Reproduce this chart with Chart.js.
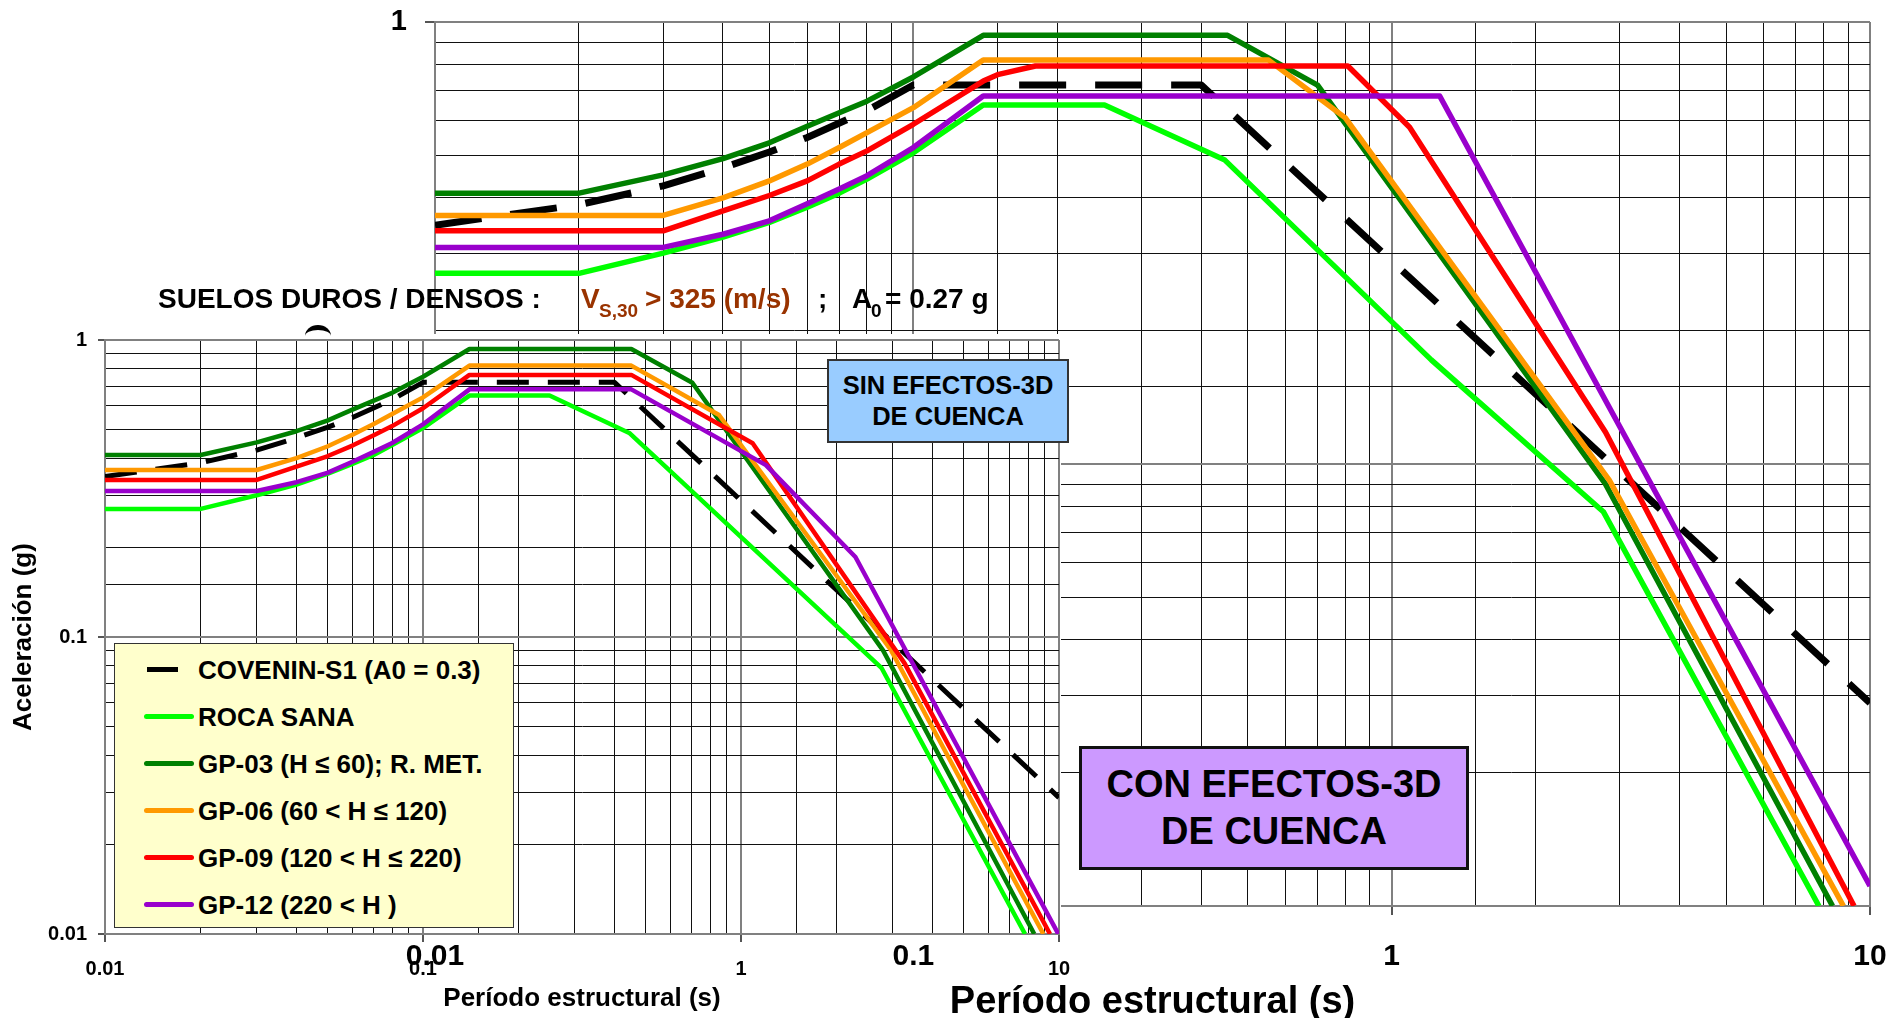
<!DOCTYPE html>
<html>
<head>
<meta charset="utf-8">
<script src="https://cdn.jsdelivr.net/npm/chart.js@4.4.1/dist/chart.umd.min.js"></script>
<style>
html,body{margin:0;padding:0;background:#fff;width:1904px;height:1018px;overflow:hidden;font-family:"Liberation Sans",Arial,sans-serif;}
canvas{position:absolute;display:block;}
#big{left:0;top:0;}
#small{left:0;top:320px;}
.t{position:absolute;white-space:pre;font-weight:bold;line-height:1;color:#000;}
#legend{position:absolute;left:114px;top:643px;width:400px;height:285px;background:#FFFFCC;border:1px solid #333;box-sizing:border-box;}
.lgLine{position:absolute;height:5px;border-radius:3px;}
.lgText{position:absolute;left:83px;font-size:26px;font-weight:bold;line-height:26px;white-space:pre;color:#000;}
#sinBox{position:absolute;left:827px;top:359px;width:242px;height:84px;background:#99CCFF;border:2px solid #333;box-sizing:border-box;}
#conBox{position:absolute;left:1079px;top:746px;width:390px;height:124px;background:#CC99FF;border:3px solid #111;box-sizing:border-box;}
.boxTxt{position:absolute;left:0;width:100%;text-align:center;font-weight:bold;white-space:pre;line-height:1;color:#000;}
#arc{position:absolute;left:305px;top:325px;width:26px;height:22px;border-top:5px solid #000;border-radius:50%;box-sizing:border-box;}
</style>
</head>
<body>
<canvas id="big" width="1904" height="1018"></canvas>
<canvas id="small" width="1100" height="698"></canvas>

<div class="t" style="left:158px;top:285px;font-size:28px;">SUELOS DUROS / DENSOS :</div>
<div class="t" style="left:581px;top:285px;font-size:28px;color:#993300;">V</div>
<div class="t" style="left:599px;top:301px;font-size:19px;color:#993300;">S,30</div>
<div class="t" style="left:645px;top:285px;font-size:28px;color:#993300;">&gt; 325 (m/s)</div>
<div class="t" style="left:818px;top:285px;font-size:28px;">;</div>
<div class="t" style="left:852px;top:285px;font-size:28px;">A</div>
<div class="t" style="left:871px;top:301px;font-size:19px;">0</div>
<div class="t" style="left:885px;top:285px;font-size:28px;">= 0.27 g</div>
<div id="arc"></div>

<div id="sinBox">
  <div class="boxTxt" style="top:12px;font-size:25.5px;">SIN EFECTOS-3D</div>
  <div class="boxTxt" style="top:43px;font-size:25.5px;">DE CUENCA</div>
</div>
<div id="conBox">
  <div class="boxTxt" style="top:16px;font-size:38px;">CON EFECTOS-3D</div>
  <div class="boxTxt" style="top:63px;font-size:38px;">DE CUENCA</div>
</div>
<div id="legend"></div>

<script>
// ================= DATA =================
const xTickValues = [0.01, 0.1, 1, 10];
const xTickLabels = ['0.01', '0.1', '1', '10'];
const yTickValues = [0.01, 0.1, 1];
const yTickLabels = ['0.01', '0.1', '1'];

const seriesLabels = ['COVENIN-S1 (A0 = 0.3)', 'ROCA SANA', 'GP-03 (H \u2264 60); R. MET.',
  'GP-06 (60 < H \u2264 120)', 'GP-09 (120 < H \u2264 220)', 'GP-12 (220 < H )'];
const seriesColors = ['#000000', '#00FF00', '#008000', '#FF9900', '#FF0000', '#9900CC'];

// COVENIN-S1 (both panels)
const covPeriods = [0.01, 0.02, 0.03, 0.04, 0.05, 0.06, 0.08, 0.1, 0.4, 10];
const covAccel   = [0.347, 0.386, 0.426, 0.468, 0.508, 0.548, 0.63, 0.72, 0.72, 0.0288];

// ---- SIN EFECTOS-3D (small panel) ----
const sinRocaT = [0.01, 0.02, 0.03, 0.04, 0.05, 0.06, 0.07, 0.08, 0.1, 0.14, 0.25, 0.447, 2.77, 7.82];
const sinRocaA = [0.27, 0.27, 0.30, 0.326, 0.354, 0.383, 0.41, 0.443, 0.505, 0.65, 0.65, 0.485, 0.0785, 0.01];
const sinGP03T = [0.01, 0.02, 0.03, 0.04, 0.05, 0.06, 0.07, 0.08, 0.1, 0.14, 0.452, 0.703, 2.8, 8.36];
const sinGP03A = [0.41, 0.41, 0.452, 0.493, 0.535, 0.583, 0.625, 0.664, 0.752, 0.933, 0.933, 0.718, 0.09, 0.01];
const sinGP06T = [0.01, 0.02, 0.03, 0.04, 0.05, 0.06, 0.07, 0.08, 0.1, 0.14, 0.452, 0.853, 2.96, 8.93];
const sinGP06A = [0.365, 0.365, 0.365, 0.40, 0.438, 0.48, 0.521, 0.563, 0.641, 0.82, 0.82, 0.559, 0.0904, 0.01];
const sinGP09T = [0.01, 0.02, 0.03, 0.04, 0.05, 0.06, 0.07, 0.08, 0.1, 0.14, 0.452, 1.088, 3.27, 9.37];
const sinGP09A = [0.338, 0.338, 0.338, 0.375, 0.406, 0.441, 0.478, 0.513, 0.589, 0.763, 0.763, 0.449, 0.0815, 0.01];
const sinGP12T = [0.01, 0.02, 0.03, 0.04, 0.05, 0.06, 0.07, 0.08, 0.1, 0.14, 0.452, 1.198, 2.29, 9.95];
const sinGP12A = [0.31, 0.31, 0.31, 0.332, 0.357, 0.389, 0.42, 0.45, 0.52, 0.682, 0.682, 0.379, 0.186, 0.01];

// ---- CON EFECTOS-3D (large panel) ----
const conRocaT = [0.01, 0.02, 0.03, 0.04, 0.05, 0.06, 0.07, 0.08, 0.1, 0.14, 0.251, 0.448, 1.21, 2.77, 7.82];
const conRocaA = [0.27, 0.27, 0.30, 0.326, 0.352, 0.381, 0.41, 0.441, 0.506, 0.649, 0.649, 0.487, 0.172, 0.078, 0.01];
const conGP03T = [0.01, 0.02, 0.03, 0.04, 0.05, 0.06, 0.07, 0.08, 0.1, 0.14, 0.454, 0.70, 2.8, 8.35];
const conGP03A = [0.41, 0.41, 0.451, 0.491, 0.533, 0.581, 0.623, 0.662, 0.751, 0.933, 0.933, 0.72, 0.09, 0.01];
const conGP06T = [0.01, 0.02, 0.03, 0.04, 0.05, 0.06, 0.07, 0.08, 0.1, 0.14, 0.553, 0.80, 2.85, 8.8];
const conGP06A = [0.365, 0.365, 0.365, 0.40, 0.437, 0.477, 0.52, 0.562, 0.64, 0.82, 0.82, 0.607, 0.092, 0.01];
const conGP09T = [0.01, 0.02, 0.03, 0.04, 0.05, 0.06, 0.07, 0.08, 0.1, 0.14, 0.15, 0.18, 0.81, 1.09, 2.0, 2.8, 9.26];
const conGP09A = [0.337, 0.337, 0.337, 0.374, 0.405, 0.437, 0.477, 0.511, 0.587, 0.735, 0.76, 0.795, 0.795, 0.578, 0.208, 0.118, 0.01];
const conGP12T = [0.01, 0.02, 0.03, 0.04, 0.05, 0.06, 0.07, 0.08, 0.1, 0.14, 1.26, 10];
const conGP12A = [0.309, 0.309, 0.309, 0.331, 0.355, 0.388, 0.419, 0.449, 0.52, 0.68, 0.68, 0.0111];

// ================= HELPERS =================
Chart.defaults.font.family = '"Liberation Sans", Arial, sans-serif';
Chart.defaults.color = '#000';

const pts = (T, A) => T.map((t, i) => ({x: t, y: A[i]}));
const isDecade = v => { const l = Math.log10(v); return Math.abs(l - Math.round(l)) < 1e-6; };
const near = (a, b) => Math.abs(Math.log10(a) - Math.log10(b)) < 1e-6;
const labelFrom = (vals, labs) => v => { const i = vals.findIndex(t => near(t, v)); return i >= 0 ? labs[i] : ''; };
const gridColor = c => (c.tick && isDecade(c.tick.value)) ? '#808080' : '#111111';
const gridWidth = c => (c.tick && isDecade(c.tick.value)) ? 2 : 1;
const tickColor = c => (c.tick && isDecade(c.tick.value)) ? '#555555' : 'rgba(0,0,0,0)';

function buildDatasets(list, lw, dashW, dash) {
  const n = list.length;
  return list.map((s, i) => ({
    label: seriesLabels[i],
    data: pts(s[0], s[1]),
    borderColor: seriesColors[i],
    backgroundColor: seriesColors[i],
    borderWidth: i === 0 ? dashW : lw,
    borderDash: i === 0 ? dash : [],
    borderCapStyle: 'butt',
    borderJoinStyle: 'round',
    pointRadius: 0,
    showLine: true,
    fill: false,
    tension: 0,
    order: n - i
  }));
}

function axisCfg(o) {
  return {
    type: 'logarithmic', min: o.min, max: o.max, position: o.pos,
    afterFit: s => {
      if (o.pos === 'bottom') s.height = o.size; else s.width = o.size;
      s.paddingTop = 0; s.paddingBottom = 0; s.paddingLeft = 0; s.paddingRight = 0;
    },
    grid: {color: gridColor, lineWidth: gridWidth, tickColor: tickColor, tickLength: o.tl, tickWidth: 2, drawOnChartArea: true},
    border: {color: '#808080', width: 2},
    ticks: {autoSkip: false, maxRotation: 0, minRotation: 0, padding: o.pad,
            font: {size: o.fs, weight: 'bold', lineHeight: 1}, color: '#000', callback: o.cb},
    title: o.title ? {display: true, text: o.title, color: '#000',
            font: {size: o.ts, weight: 'bold', lineHeight: 1}, padding: o.tp} : {display: false}
  };
}

// ================= LARGE CHART (CON EFECTOS) =================
new Chart(document.getElementById('big'), {
  type: 'scatter',
  data: {datasets: buildDatasets([
    [covPeriods, covAccel], [conRocaT, conRocaA], [conGP03T, conGP03A],
    [conGP06T, conGP06A], [conGP09T, conGP09A], [conGP12T, conGP12A]], 5.5, 7, [47, 29])},
  options: {
    responsive: false, animation: false, events: [],
    layout: {padding: {left: 0, top: 22, right: 34, bottom: 0}},
    plugins: {legend: {display: false}, tooltip: {enabled: false}},
    scales: {
      x: axisCfg({min: 0.01, max: 10, pos: 'bottom', size: 112, tl: 9, pad: 27, fs: 30,
        cb: labelFrom(xTickValues, xTickLabels), title: 'Período estructural (s)', ts: 38, tp: {top: 0, bottom: -4}}),
      y: axisCfg({min: 0.01, max: 1, pos: 'left', size: 435, tl: 10, pad: 18, fs: 29,
        cb: labelFrom(yTickValues, yTickLabels)})
    }
  }
});

// ================= SMALL CHART (SIN EFECTOS) =================
const whiteBox = {
  id: 'whiteBox',
  beforeDraw(chart) {
    const c = chart.ctx; c.save(); c.fillStyle = '#ffffff'; c.fillRect(0, 14, 1061, 606); c.restore();
  }
};
new Chart(document.getElementById('small'), {
  type: 'scatter',
  data: {datasets: buildDatasets([
    [covPeriods, covAccel], [sinRocaT, sinRocaA], [sinGP03T, sinGP03A],
    [sinGP06T, sinGP06A], [sinGP09T, sinGP09A], [sinGP12T, sinGP12A]], 4.5, 5, [32, 19])},
  options: {
    responsive: false, animation: false, events: [],
    layout: {padding: {left: 0, top: 20, right: 41, bottom: 0}},
    plugins: {legend: {display: false}, tooltip: {enabled: false}},
    scales: {
      x: axisCfg({min: 0.01, max: 10, pos: 'bottom', size: 84, tl: 8, pad: 17, fs: 20,
        cb: labelFrom(xTickValues, xTickLabels), title: 'Período estructural (s)', ts: 26, tp: {top: 0, bottom: 6}}),
      y: axisCfg({min: 0.01, max: 1, pos: 'left', size: 105, tl: 7, pad: 11, fs: 20,
        cb: labelFrom(yTickValues, yTickLabels), title: 'Aceleración (g)', ts: 26, tp: {top: 11, bottom: 0}})
    }
  },
  plugins: [whiteBox]
});

// ================= LEGEND (HTML) =================
const lg = document.getElementById('legend');
seriesLabels.forEach((lab, i) => {
  const cy = 25 + 47.1 * i;
  const line = document.createElement('div');
  line.className = 'lgLine';
  line.style.background = seriesColors[i];
  if (i === 0) { line.style.left = '32px'; line.style.width = '31px'; line.style.borderRadius = '0'; }
  else { line.style.left = '29px'; line.style.width = '50px'; }
  line.style.top = (cy - 2.5) + 'px';
  lg.appendChild(line);
  const tx = document.createElement('div');
  tx.className = 'lgText';
  tx.textContent = lab;
  tx.style.top = (cy - 12.3) + 'px';
  lg.appendChild(tx);
});
</script>
</body>
</html>
